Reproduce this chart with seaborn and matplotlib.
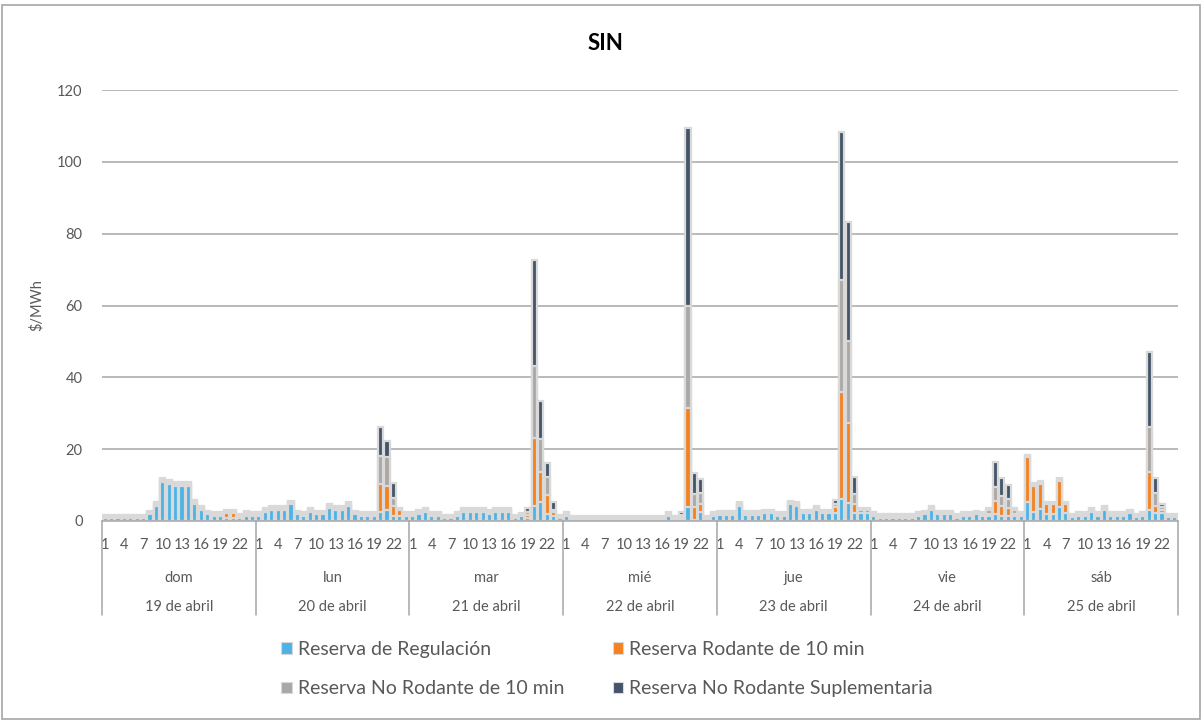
import numpy as np
import pandas as pd
import matplotlib.pyplot as plt
from matplotlib.patches import Patch, Rectangle
from matplotlib.transforms import blended_transform_factory
import seaborn as sns

# ── Data ─────────────────────────────────────────────────────────────────────
dias = ['dom', 'lun', 'mar', 'mié', 'jue', 'vie', 'sáb']
fechas = ['19 de abril', '20 de abril', '21 de abril', '22 de abril',
          '23 de abril', '24 de abril', '25 de abril']
horas_etiqueta = [1, 4, 7, 10, 13, 16, 19, 22]

# $/MWh por hora (24 por día)
regulacion = [
    0.8, 0.8, 0.8, 0.8, 0.8, 0.8, 0.8, 1.9, 4.2, 10.9, 10.3, 9.8, 9.8, 9.8, 4.8, 3.1, 1.9, 1.4, 1.4, 0.8, 0.8, 0.8, 1.4, 1.4,
    1.4, 2.5, 3.1, 3.1, 3.1, 4.7, 1.9, 1.4, 2.5, 1.9, 1.9, 3.6, 3.1, 3.1, 4.2, 1.9, 1.4, 1.4, 1.4, 2.5, 3.1, 1.4, 1.4, 1.4,
    1.5, 2.0, 2.6, 1.5, 1.5, 0.8, 0.8, 1.5, 2.6, 2.6, 2.6, 2.6, 2.0, 2.6, 2.6, 2.6, 0.8, 1.3, 0.8, 4.3, 5.2, 2.0, 1.5, 0.8,
    1.5, 0.3, 0.3, 0.3, 0.3, 0.3, 0.3, 0.3, 0.3, 0.3, 0.3, 0.3, 0.3, 0.3, 0.3, 0.3, 1.5, 0.3, 0.5, 4.0, 0.3, 2.6, 0.3, 1.5,
    1.7, 1.7, 1.7, 4.3, 1.7, 1.7, 1.7, 2.2, 2.2, 1.5, 1.5, 4.7, 4.3, 2.2, 2.2, 3.2, 2.2, 2.2, 2.2, 6.1, 4.9, 2.2, 2.2, 2.2,
    1.4, 0.9, 0.9, 0.9, 0.9, 0.9, 0.9, 1.4, 1.9, 3.1, 1.9, 1.9, 1.9, 0.9, 1.4, 1.4, 1.9, 1.4, 1.4, 1.9, 1.4, 1.4, 1.4, 1.4,
    5.2, 2.6, 3.4, 2.0, 2.0, 3.8, 2.2, 1.0, 1.5, 1.5, 2.6, 1.5, 3.2, 1.5, 1.5, 1.5, 2.2, 1.0, 1.5, 3.2, 2.2, 2.2, 1.0, 1.0,
]
rodante_10 = [
    0.3, 0.3, 0.3, 0.3, 0.3, 0.3, 0.3, 0.3, 0.3, 0.3, 0.3, 0.3, 0.3, 0.3, 0.3, 0.3, 0.3, 0.3, 0.3, 1.5, 1.5, 0.4, 0.6, 0.3,
    0.3, 0.3, 0.3, 0.3, 0.3, 0.3, 0.3, 0.3, 0.3, 0.3, 0.3, 0.3, 0.3, 0.3, 0.3, 0.3, 0.3, 0.3, 0.3, 7.8, 6.7, 2.8, 1.6, 0.3,
    0.3, 0.3, 0.3, 0.3, 0.3, 0.3, 0.3, 0.3, 0.3, 0.3, 0.3, 0.3, 0.3, 0.3, 0.3, 0.3, 0.3, 0.3, 0.9, 18.7, 8.5, 5.1, 1.1, 0.3,
    0.3, 0.3, 0.3, 0.3, 0.3, 0.3, 0.3, 0.3, 0.3, 0.3, 0.3, 0.3, 0.3, 0.3, 0.3, 0.3, 0.3, 0.3, 0.5, 27.4, 3.5, 2.1, 0.3, 0.3,
    0.3, 0.3, 0.3, 0.3, 0.3, 0.3, 0.3, 0.3, 0.3, 0.3, 0.3, 0.3, 0.3, 0.3, 0.3, 0.3, 0.3, 0.3, 1.6, 29.8, 22.3, 2.5, 0.8, 0.8,
    0.3, 0.3, 0.3, 0.3, 0.3, 0.3, 0.3, 0.3, 0.3, 0.3, 0.3, 0.3, 0.3, 0.3, 0.3, 0.3, 0.3, 0.3, 0.6, 3.7, 2.8, 2.3, 0.6, 0.3,
    12.5, 7.2, 6.9, 2.7, 2.7, 7.4, 2.5, 0.3, 0.3, 0.3, 0.3, 0.3, 0.3, 0.3, 0.3, 0.3, 0.3, 0.3, 0.3, 10.5, 2.1, 0.8, 0.3, 0.3,
]
no_rodante_10 = [
    0.4, 0.4, 0.4, 0.4, 0.4, 0.4, 0.4, 0.4, 0.4, 0.4, 0.4, 0.4, 0.4, 0.4, 0.4, 0.4, 0.4, 0.4, 0.4, 0.6, 0.6, 0.4, 0.4, 0.4,
    0.4, 0.4, 0.4, 0.4, 0.4, 0.4, 0.4, 0.4, 0.4, 0.4, 0.4, 0.4, 0.4, 0.4, 0.4, 0.4, 0.4, 0.4, 0.4, 7.9, 7.9, 2.3, 0.4, 0.4,
    0.4, 0.4, 0.4, 0.4, 0.4, 0.4, 0.4, 0.4, 0.4, 0.4, 0.4, 0.4, 0.4, 0.4, 0.4, 0.4, 0.4, 0.4, 0.9, 20.2, 9.1, 5.1, 0.6, 0.4,
    0.4, 0.4, 0.4, 0.4, 0.4, 0.4, 0.4, 0.4, 0.4, 0.4, 0.4, 0.4, 0.4, 0.4, 0.4, 0.4, 0.4, 0.4, 0.6, 28.4, 3.7, 3.1, 0.4, 0.4,
    0.4, 0.4, 0.4, 0.4, 0.4, 0.4, 0.4, 0.4, 0.4, 0.4, 0.4, 0.4, 0.4, 0.4, 0.4, 0.4, 0.4, 0.4, 0.9, 31.3, 22.9, 2.8, 0.4, 0.4,
    0.4, 0.4, 0.4, 0.4, 0.4, 0.4, 0.4, 0.4, 0.4, 0.4, 0.4, 0.4, 0.4, 0.4, 0.4, 0.4, 0.4, 0.4, 1.0, 4.0, 2.8, 2.4, 1.0, 0.4,
    0.4, 0.4, 0.4, 0.4, 0.4, 0.4, 0.4, 0.4, 0.4, 0.4, 0.4, 0.4, 0.4, 0.4, 0.4, 0.4, 0.4, 0.4, 0.4, 12.6, 3.4, 0.9, 0.4, 0.4,
]
suplementaria = [
    0.3, 0.3, 0.3, 0.3, 0.3, 0.3, 0.3, 0.3, 0.3, 0.3, 0.3, 0.3, 0.3, 0.3, 0.3, 0.3, 0.3, 0.3, 0.3, 0.3, 0.3, 0.3, 0.3, 0.3,
    0.3, 0.3, 0.3, 0.3, 0.3, 0.3, 0.3, 0.3, 0.3, 0.3, 0.3, 0.3, 0.3, 0.3, 0.3, 0.3, 0.3, 0.3, 0.3, 7.9, 4.5, 4.0, 0.3, 0.3,
    0.3, 0.3, 0.3, 0.3, 0.3, 0.3, 0.3, 0.3, 0.3, 0.3, 0.3, 0.3, 0.3, 0.3, 0.3, 0.3, 0.3, 0.3, 1.0, 29.6, 10.5, 3.9, 2.0, 0.3,
    0.3, 0.3, 0.3, 0.3, 0.3, 0.3, 0.3, 0.3, 0.3, 0.3, 0.3, 0.3, 0.3, 0.3, 0.3, 0.3, 0.3, 0.3, 0.8, 49.6, 5.8, 3.9, 0.3, 0.3,
    0.3, 0.3, 0.3, 0.3, 0.3, 0.3, 0.3, 0.3, 0.3, 0.3, 0.3, 0.3, 0.3, 0.3, 0.3, 0.3, 0.3, 0.3, 1.2, 41.2, 33.1, 4.7, 0.3, 0.3,
    0.3, 0.3, 0.3, 0.3, 0.3, 0.3, 0.3, 0.3, 0.3, 0.3, 0.3, 0.3, 0.3, 0.3, 0.3, 0.3, 0.3, 0.3, 0.7, 6.7, 5.1, 3.9, 0.7, 0.3,
    0.3, 0.3, 0.3, 0.3, 0.3, 0.3, 0.3, 0.3, 0.3, 0.3, 0.3, 0.3, 0.3, 0.3, 0.3, 0.3, 0.3, 0.3, 0.3, 20.8, 4.3, 0.8, 0.3, 0.3,
]

series = ['Reserva de Regulación', 'Reserva Rodante de 10 min',
          'Reserva No Rodante de 10 min', 'Reserva No Rodante Suplementaria']
colores = ['#4DB3E6', '#F5821F', '#ABA7A5', '#44546A']
BORDE = '#D9D9D9'
GRIS = '#A6A6A6'
TEXTO = '#595959'

# ── Settings ─────────────────────────────────────────────────────────────────
sns.set_theme(style='white')
plt.rcParams['font.family'] = ['Lato', 'DejaVu Sans']

df = pd.DataFrame({'pos': np.arange(len(regulacion)),
                   series[0]: regulacion, series[1]: rodante_10,
                   series[2]: no_rodante_10, series[3]: suplementaria})
acum = df[series].cumsum(axis=1)

W, H = 1202, 721
fig = plt.figure(figsize=(W / 100, H / 100), dpi=100)
ax = fig.add_axes([102 / W, 1 - 521 / H, 1076 / W, 431 / H])

# stacked bars: draw cumulative totals from top series down
for nombre, color in reversed(list(zip(series, colores))):
    sns.barplot(x=df['pos'], y=acum[nombre], color=color, saturation=1,
                width=0.8, edgecolor=BORDE, linewidth=1.6, errorbar=None,
                ax=ax, zorder=2)

ax.set_xlim(-0.5, len(df) - 0.5)
ax.set_ylim(0, 120)
ax.set_yticks(range(0, 121, 20))
ax.set_xlabel('')
ax.set_ylabel('')
ax.yaxis.grid(True, color=GRIS, linewidth=1.1)
ax.set_axisbelow(True)
for s in ['left', 'top', 'right']:
    ax.spines[s].set_visible(False)
ax.spines['bottom'].set_color(GRIS)
ax.spines['bottom'].set_linewidth(1.1)
ax.spines['bottom'].set_zorder(3)

# hour labels and tick lines between bars
pos_lbl = [d * 24 + h - 1 for d in range(7) for h in horas_etiqueta]
ax.set_xticks(pos_lbl)
ax.set_xticklabels([str(h) for d in range(7) for h in horas_etiqueta])
ax.set_xticks(np.arange(-0.5, len(df), 1), minor=True)
ax.tick_params(axis='x', which='major', length=0, pad=12, labelsize=10.5, labelcolor=TEXTO)
ax.tick_params(axis='x', which='minor', length=22, width=1.1, color=GRIS, direction='out')
ax.tick_params(axis='y', length=0, pad=14, labelsize=10.5, labelcolor=TEXTO)

trans = blended_transform_factory(ax.transData, ax.transAxes)
for d in range(8):
    ax.plot([d * 24 - 0.5] * 2, [0, -(615 - 521) / 431], color=GRIS, lw=1.1,
            transform=trans, clip_on=False)
for d in range(7):
    ax.text(d * 24 + 11.5, -(578 - 521) / 431, dias[d], transform=trans,
            ha='center', va='center', fontsize=10.5, color=TEXTO)
    ax.text(d * 24 + 11.5, -(607 - 521) / 431, fechas[d], transform=trans,
            ha='center', va='center', fontsize=10.5, color=TEXTO)

fig.text(37 / W, 1 - 305 / H, '\\$/MWh', rotation=90, ha='center', va='center',
         fontsize=10.5, color=TEXTO)
fig.text(605 / W, 1 - 43 / H, 'SIN', ha='center', va='center',
         fontsize=16, fontweight='bold', color='black')

# legend: column-wise fill gives the 2x2 order of the original
orden = [0, 2, 1, 3]
handles = [Patch(facecolor=colores[i], edgecolor=BORDE, linewidth=0.8) for i in orden]
fig.legend(handles, [series[i] for i in orden], ncol=2, loc='upper left',
           bbox_to_anchor=(281 / W, 1 - 641 / H), frameon=False, fontsize=14,
           labelcolor=TEXTO, handlelength=0.55, handleheight=0.55,
           handletextpad=0.3, columnspacing=2.5, labelspacing=1.15,
           borderpad=0, borderaxespad=0)

fig.add_artist(Rectangle((2 / W, 2 / H), 1 - 4 / W, 1 - 7 / H, transform=fig.transFigure,
                         fill=False, edgecolor=GRIS, linewidth=1.2))

fig.savefig('out.png', dpi=100)
